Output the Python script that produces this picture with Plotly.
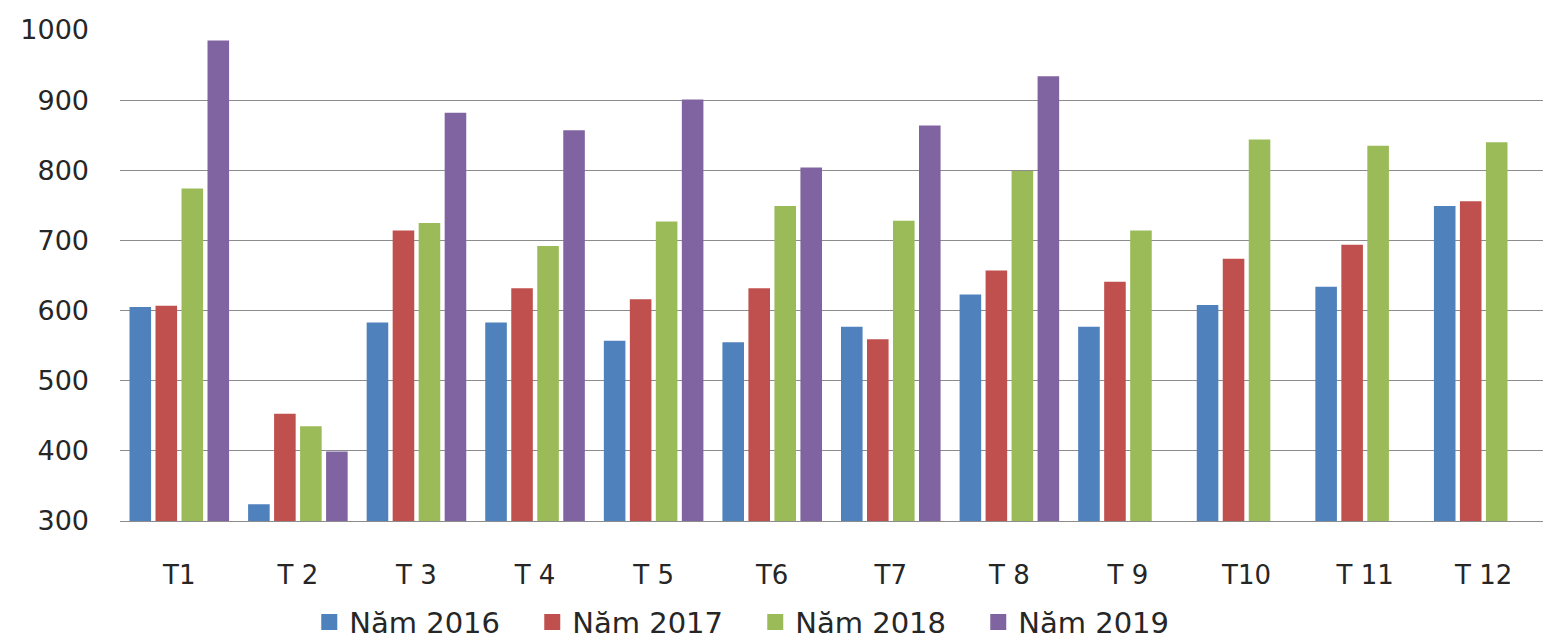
import plotly.graph_objects as go

months = ["T1", "T 2", "T 3", "T 4", "T 5", "T6", "T7", "T 8", "T 9", "T10", "T 11", "T 12"]
series_names = ["Năm 2016", "Năm 2017", "Năm 2018", "Năm 2019"]
v2016 = [605, 324, 583, 583, 557, 555, 577, 623, 577, 608, 634, 749]
v2017 = [607, 453, 714, 632, 616, 632, 559, 657, 641, 674, 694, 756]
v2018 = [774, 435, 725, 692, 727, 749, 728, 799, 714, 844, 835, 840]
v2019 = [985, 399, 882, 857, 901, 804, 864, 934, None, None, None, None]
colors = ["#4F81BD", "#C0504D", "#9BBB59", "#8064A2"]
y_ticks = [300, 400, 500, 600, 700, 800, 900, 1000]

font_family = "DejaVu Sans, Verdana, sans-serif"
text_color = "#262626"

fig = go.Figure()
for name, vals, col in zip(series_names, [v2016, v2017, v2018, v2019], colors):
    fig.add_trace(go.Bar(x=months, y=vals, name=name, marker=dict(color=col, line=dict(width=0)),
                         showlegend=False))
for name, col in zip(series_names, colors):
    fig.add_trace(go.Scatter(x=[None], y=[None], mode="markers", name=name,
                             marker=dict(symbol="square", size=20, color=col), showlegend=True))

fig.update_layout(
    width=1555, height=640,
    margin=dict(l=120, r=12, t=30, b=119),
    paper_bgcolor="white", plot_bgcolor="white",
    barmode="group", bargap=0.123, bargroupgap=0.17,
    font=dict(family=font_family, size=27, color=text_color),
    legend=dict(orientation="h", x=0.133, xanchor="left", xref="paper",
                y=0.028, yanchor="middle", yref="container",
                font=dict(size=29, family=font_family, color=text_color),
                entrywidth=178, entrywidthmode="pixels", itemwidth=30,
                bgcolor="rgba(0,0,0,0)"),
)
fig.update_xaxes(type="category", showgrid=False, showline=True, linecolor="#8C8C8C", linewidth=1,
                 ticks="", ticklabelstandoff=31, tickfont=dict(size=26), automargin=False)
fig.update_yaxes(range=[300, 1000], tickvals=y_ticks, showgrid=True, gridcolor="#8C8C8C", gridwidth=1,
                 zeroline=False, showline=False, ticks="", ticklabelstandoff=30, tickfont=dict(size=27),
                 automargin=False)

fig.write_html("out.html")
